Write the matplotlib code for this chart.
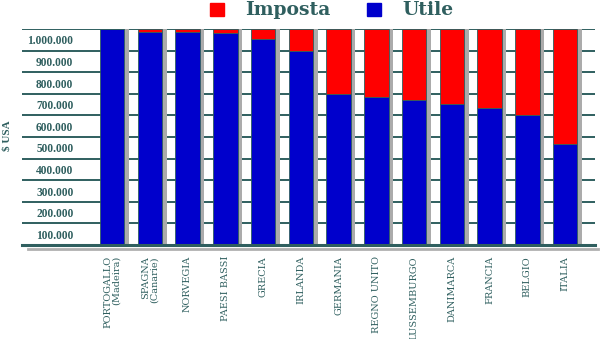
import matplotlib.pyplot as plt
from matplotlib.patches import Rectangle

paesi = [
    "PORTOGALLO\n(Madeira)", "SPAGNA\n(Canarie)", "NORVEGIA", "PAESI BASSI",
    "GRECIA", "IRLANDA", "GERMANIA", "REGNO UNITO", "LUSSEMBURGO",
    "DANIMARCA", "FRANCIA", "BELGIO", "ITALIA",
]
utile = [1000000, 988000, 985000, 983000, 954000, 900000, 700000,
         687000, 670000, 651000, 633000, 600000, 469000]
imposta = [1000000 - u for u in utile]
y_labels = ["100.000", "200.000", "300.000", "400.000", "500.000",
            "600.000", "700.000", "800.000", "900.000", "1.000.000"]

TEAL = "#2f5f5f"
BLUE = "#0000cc"
RED = "#ff0000"
SERIF = ["DejaVu Serif"]

fig = plt.figure(figsize=(6, 3.39), dpi=100)
ax = fig.add_axes([22 / 600, 1 - 245 / 339, 573 / 600, 216 / 339])
ax.set_xlim(-2.384, 12.79)
ax.set_ylim(0, 1000000)

x = list(range(len(paesi)))
w = 0.65

# grid lines
for k in range(1, 11):
    ax.axhline(k * 100000, color=TEAL, lw=1.4, zorder=1)

# shadow strip on the right of every bar
ax.bar([i + w / 2 + 0.06 for i in x], [1000000] * len(x), width=0.12,
       color="#ababab", zorder=2)
ax.bar(x, utile, width=w, color=BLUE, edgecolor=TEAL, lw=0.6, zorder=3)
ax.bar(x, imposta, bottom=utile, width=w, color=RED, edgecolor=TEAL,
       lw=0.6, zorder=3)

# baseline with grey shadow
ax.axhline(0, color=TEAL, lw=2.2, zorder=4, clip_on=False)
ax.plot([0.01, 1.005], [-0.02, -0.02], transform=ax.transAxes,
        color="#b0b0b0", lw=2, clip_on=False, zorder=1)

ax.set_yticks([k * 100000 - 50000 for k in range(1, 11)], y_labels)
ax.tick_params(axis="y", length=0, pad=-37)
for t in ax.get_yticklabels():
    t.set_family(["Liberation Serif"])
    t.set_fontweight("bold")
    t.set_fontsize(8.3)
    t.set_color(TEAL)

ax.set_xticks(x, paesi, rotation=90, va="top", ha="center",
              multialignment="right")
ax.tick_params(axis="x", length=0, pad=8)
for t in ax.get_xticklabels():
    t.set_family(SERIF)
    t.set_fontsize(7.0)
    t.set_color(TEAL)
    t.set_linespacing(1.0)

for s in ax.spines.values():
    s.set_visible(False)

fig.text(7 / 600, 1 - 136 / 339, "$ USA", rotation=90, ha="center",
         va="center", family=["Liberation Serif"], fontweight="bold",
         fontsize=8, color=TEAL)

# legend
fig.patches.append(Rectangle((210 / 600, 1 - 16 / 339), 14 / 600, 13 / 339,
                             transform=fig.transFigure, color=RED))
fig.text(245 / 600, 1 - 10 / 339, "Imposta", ha="left", va="center",
         family=SERIF, fontweight="bold", fontsize=13.5, color=TEAL)
fig.patches.append(Rectangle((367 / 600, 1 - 16 / 339), 14 / 600, 13 / 339,
                             transform=fig.transFigure, color=BLUE))
fig.text(402 / 600, 1 - 10 / 339, "Utile", ha="left", va="center",
         family=SERIF, fontweight="bold", fontsize=13.5, color=TEAL)

fig.savefig("out.png", dpi=100)
